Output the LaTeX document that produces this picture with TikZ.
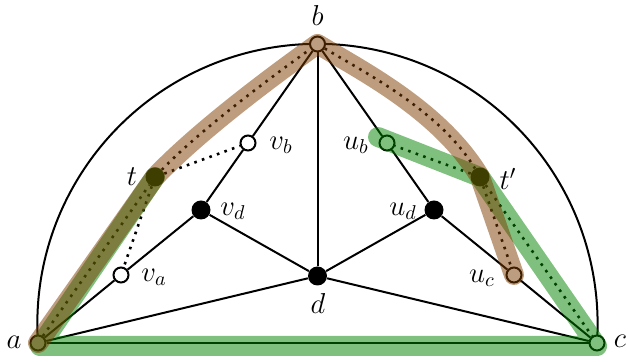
\documentclass[tikz,border=0pt]{standalone}
\pgfdeclarelayer{bg}
\pgfdeclarelayer{fg}
\pgfsetlayers{bg,main,fg}
\definecolor{hbrown}{RGB}{125,60,0}
\definecolor{hgreen}{RGB}{0,130,0}
\tikzset{
  edge/.style={line width=1pt},
  dotedge/.style={line width=1.3pt, dash pattern=on 1.3pt off 2.7pt},
  opennode/.style={circle, draw, fill=white, line width=1pt, inner sep=0pt, minimum size=7.5pt},
  solidnode/.style={circle, fill=black, inner sep=0pt, minimum size=9.5pt},
  lab/.style={inner sep=0pt, font=\Large},
  hlbrown/.style={line width=10pt, line cap=round, line join=round, draw=hbrown, draw opacity=0.5},
  hlgreen/.style={line width=10pt, line cap=round, line join=round, draw=hgreen, draw opacity=0.5}
}
\begin{document}
\begin{tikzpicture}[x=0.5pt,y=-0.5pt]
\useasboundingbox (0,0) rectangle (628,362);
% nodes
\node[opennode] (a) at (38,343) {};
\node[opennode] (c) at (597,343) {};
\node[opennode] (b) at (317.5,44) {};
\node[solidnode] (d) at (317.5,276) {};
\node[solidnode] (t) at (155,177) {};
\node[solidnode] (tp) at (480,177) {};
\node[opennode] (vb) at (248,143) {};
\node[opennode] (ub) at (387,143) {};
\node[solidnode] (vd) at (201,210) {};
\node[solidnode] (ud) at (434,210) {};
\node[opennode] (va) at (121,275) {};
\node[opennode] (uc) at (514,275) {};
% labels
\node[lab] (la) at (14,342) {$a$};
\node[lab] (lc) at (620,341) {$c$};
\node[lab] (lb) at (317.5,16) {$b$};
\node[lab] (ld) at (318,304) {$d$};
\node[lab] (lt) at (132,177) {$t$};
\node[lab] (ltp) at (508,179) {$t'$};
\node[lab] (lvb) at (281,145) {$v_b$};
\node[lab] (lub) at (356,145) {$u_b$};
\node[lab] (lvd) at (233,211) {$v_d$};
\node[lab] (lud) at (403,211) {$u_d$};
\node[lab] (lva) at (154,277) {$v_a$};
\node[lab] (luc) at (482,278) {$u_c$};
\begin{pgfonlayer}{bg}
  \draw[edge] (a.center) arc[start angle=183.89, end angle=-3.89, radius=140.07pt];
  \draw[edge] (a) -- (c);
  \draw[edge] (a) -- (d);
  \draw[edge] (c) -- (d);
  \draw[edge] (b) -- (d);
  \draw[edge] (a) -- (va) -- (vd);
  \draw[edge] (b) -- (vb) -- (vd);
  \draw[edge] (b) -- (ub) -- (ud);
  \draw[edge] (c) -- (uc) -- (ud);
  \draw[edge] (vd) -- (d);
  \draw[edge] (ud) -- (d);
  \draw[dotedge] (a) -- (t);
  \draw[dotedge] (t) .. controls (195,135) and (260,85) .. (b);
  \draw[dotedge] (b) .. controls (360,70) and (440,110) .. (tp);
  \draw[dotedge] (tp) -- (ub);
  \draw[dotedge] (tp) -- (uc);
  \draw[dotedge] (tp) -- (c);
  \draw[dotedge] (t) -- (vb);
  \draw[dotedge] (t) -- (va);
\end{pgfonlayer}
\begin{pgfonlayer}{fg}
  \coordinate (gs) at (378,137);
  \coordinate (gc) at (597,346);
  \coordinate (ga) at (40,346);
  \draw[hlgreen] (gs) -- (tp.center) -- (gc) -- (ga) -- (t.center);
  \draw[hlbrown] (a.center) -- (t.center) .. controls (195,135) and (260,85) .. (b.center)
     .. controls (360,70) and (440,110) .. (tp.center) -- (uc.center);
\end{pgfonlayer}
\end{tikzpicture}
\end{document}
